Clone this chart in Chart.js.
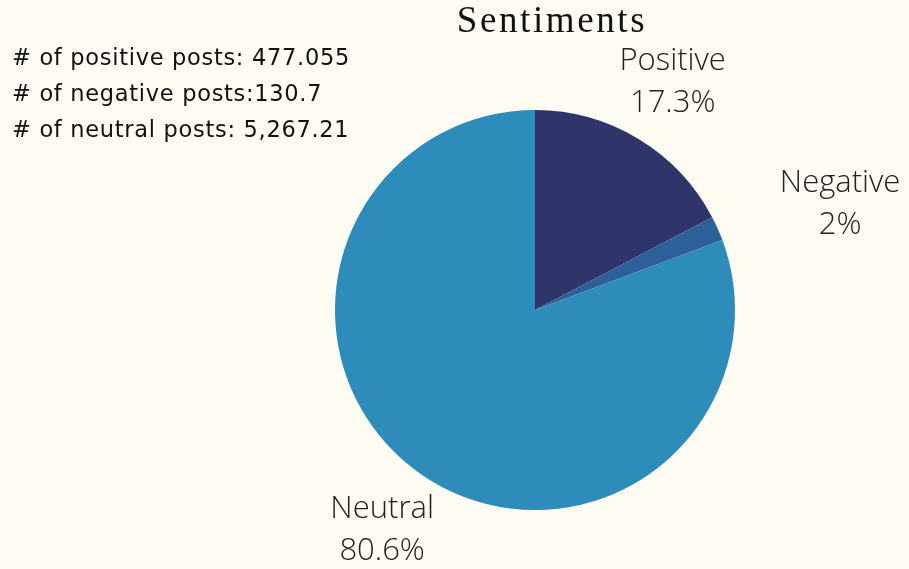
<!DOCTYPE html>
<html>
<head>
<meta charset="utf-8">
<script src="https://cdn.jsdelivr.net/npm/chart.js@4/dist/chart.umd.min.js"></script>
<style>
html,body{margin:0;padding:0;background:#fefbf2;overflow:hidden}
#wrap{position:relative;width:909px;height:569px}
#chart{position:absolute;left:0;top:0}
#title{position:absolute;left:0;width:1104px;top:-2px;text-align:center;font-family:"Liberation Serif",serif;font-size:37px;letter-spacing:2.6px;color:#111}
#counts{position:absolute;left:12px;top:39px;font-family:"DejaVu Sans",sans-serif;font-size:22.5px;letter-spacing:0.7px;line-height:36px;color:#111}
</style>
</head>
<body>
<div id="wrap">
<canvas id="chart" width="909" height="569"></canvas>
<div id="title">Sentiments</div>
<div id="counts"></div>
</div>
<script>

let labels=["Positive","Negative","Neutral"]
let shares=[17.3,2,80.6]
let colors=["#2f346b","#2d5f98","#2e8cbb"]
let countLines=["# of positive posts: 477.055","# of negative posts:130.7","# of neutral posts: 5,267.21"]

document.getElementById("counts").innerHTML=countLines.join("<br>")

// labels sit outside the pie, along each slice's middle angle
let outsideLabels={
id:"outsideLabels",
afterDatasetsDraw(chart,args,opts){
let ctx=chart.ctx
let meta=chart.getDatasetMeta(0)
ctx.save()
ctx.fillStyle="#222"
ctx.font="300 31px 'Open Sans'"
ctx.textAlign="center"
ctx.textBaseline="middle"
meta.data.forEach((arc,i)=>{
let p=arc.getProps(["x","y","startAngle","endAngle","outerRadius"],true)
let a=(p.startAngle+p.endAngle)/2+(opts.turn[i]||0)
let r=p.outerRadius+opts.gap[i]
let x=p.x+Math.cos(a)*r
let y=p.y+Math.sin(a)*r
ctx.fillText(labels[i],x,y-21)
ctx.fillText(shares[i]+"%",x,y+21)
})
ctx.restore()
}
}

new Chart(document.getElementById("chart"),{
type:"pie",
data:{
labels:labels,
datasets:[{
data:shares,
backgroundColor:colors,
borderWidth:0
}]
},
options:{
responsive:false,
animation:false,
layout:{padding:{left:335,right:174,top:110,bottom:59}},
plugins:{
legend:{display:false},
tooltip:{enabled:false},
outsideLabels:{gap:[66,123,68],turn:[0,0.085,0]}
}
},
plugins:[outsideLabels]
})

</script>
</body>
</html>
